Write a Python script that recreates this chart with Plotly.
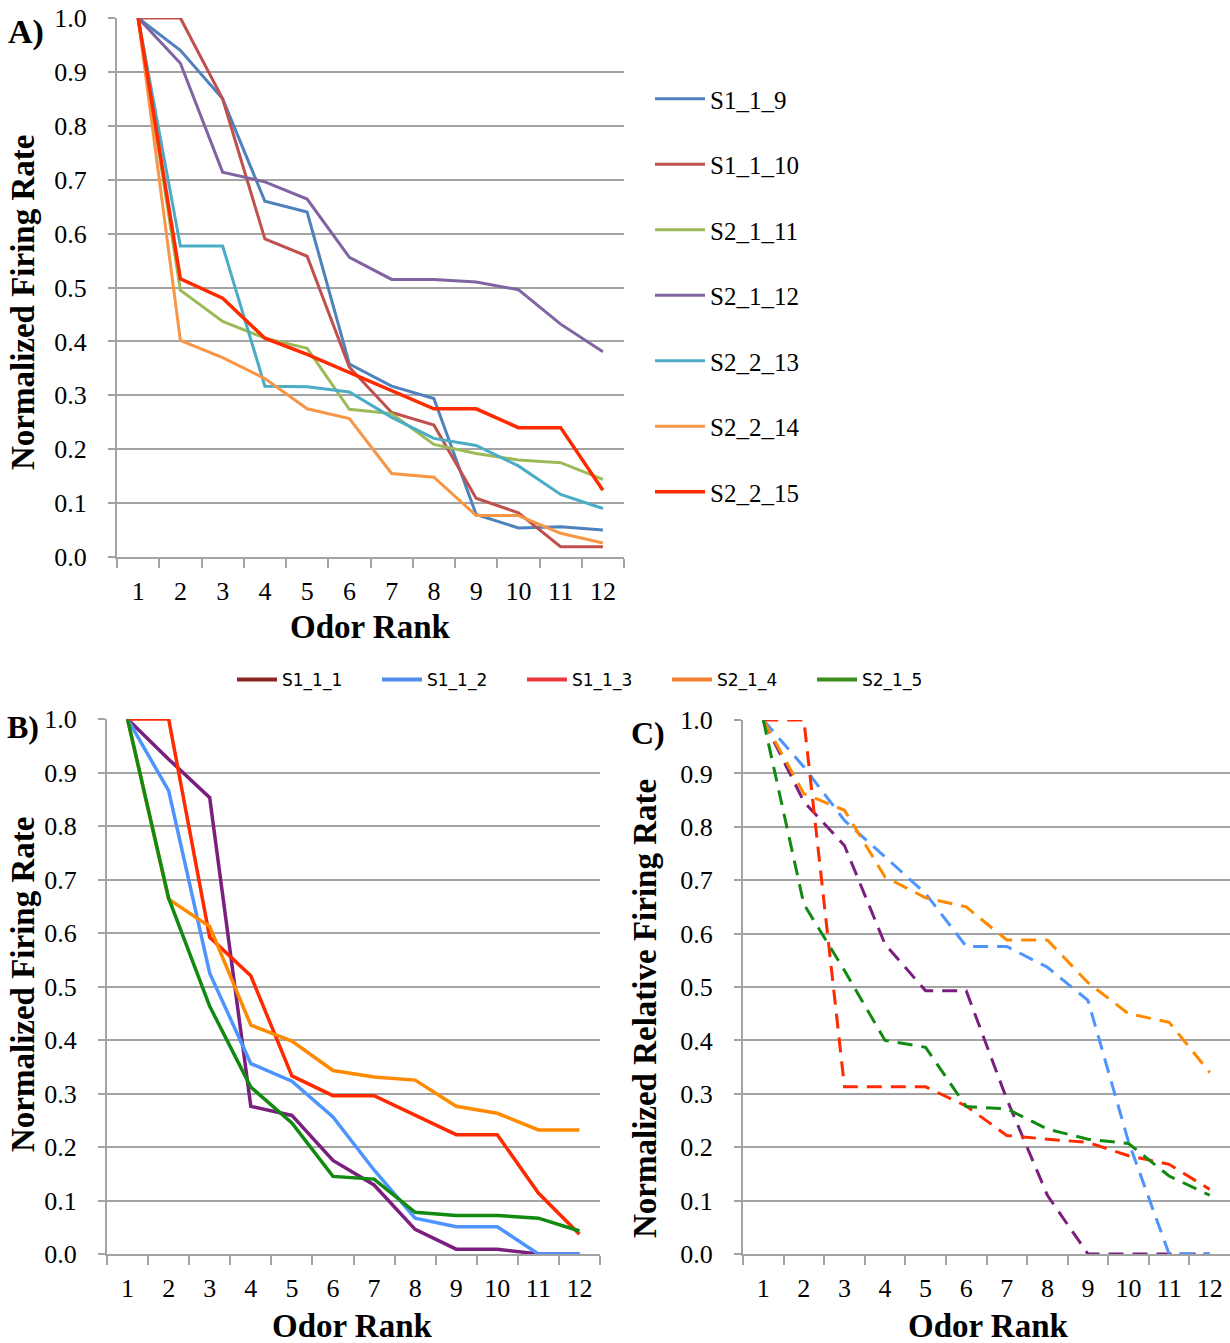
import plotly.graph_objects as go

W, H = 1230, 1343
ranks = [str(i) for i in range(1, 13)]

# Panel A data
a_names = ["S1_1_9", "S1_1_10", "S2_1_11", "S2_1_12", "S2_2_13", "S2_2_14", "S2_2_15"]
s1_1_9 = [1.0, 0.94, 0.85, 0.66, 0.64, 0.358, 0.317, 0.294, 0.079, 0.054, 0.056, 0.05]
s1_1_10 = [1.0, 1.0, 0.85, 0.59, 0.558, 0.352, 0.268, 0.245, 0.109, 0.082, 0.019, 0.019]
s2_1_11 = [1.0, 0.495, 0.437, 0.406, 0.387, 0.274, 0.266, 0.209, 0.192, 0.18, 0.175, 0.144]
s2_1_12 = [1.0, 0.916, 0.714, 0.696, 0.664, 0.556, 0.515, 0.515, 0.51, 0.496, 0.432, 0.381]
s2_2_13 = [1.0, 0.577, 0.577, 0.317, 0.316, 0.306, 0.259, 0.22, 0.207, 0.169, 0.116, 0.09]
s2_2_14 = [1.0, 0.402, 0.37, 0.331, 0.275, 0.257, 0.155, 0.148, 0.077, 0.077, 0.044, 0.026]
s2_2_15 = [1.0, 0.516, 0.48, 0.406, 0.376, 0.342, 0.308, 0.275, 0.275, 0.24, 0.24, 0.124]
a_values = [s1_1_9, s1_1_10, s2_1_11, s2_1_12, s2_2_13, s2_2_14, s2_2_15]
a_colors = ["#4F81BD", "#C0504D", "#9BBB59", "#8064A2", "#4BACC6", "#F79646", "#FF2A00"]

# Panel B data
b_names = ["S1_1_1", "S1_1_2", "S1_1_3", "S2_1_4", "S2_1_5"]
s1_1_1 = [1.0, 0.925, 0.853, 0.276, 0.259, 0.175, 0.129, 0.046, 0.009, 0.009, 0.0, 0.0]
s1_1_2 = [1.0, 0.866, 0.525, 0.356, 0.323, 0.256, 0.157, 0.067, 0.051, 0.051, 0.0, 0.0]
s1_1_3 = [1.0, 1.0, 0.592, 0.52, 0.333, 0.296, 0.296, 0.26, 0.223, 0.223, 0.114, 0.037]
s2_1_4 = [1.0, 0.663, 0.612, 0.428, 0.398, 0.343, 0.331, 0.325, 0.276, 0.263, 0.232, 0.232]
s2_1_5 = [1.0, 0.665, 0.463, 0.312, 0.245, 0.145, 0.14, 0.078, 0.072, 0.072, 0.067, 0.043]
b_values = [s1_1_1, s1_1_2, s1_1_3, s2_1_4, s2_1_5]
line_colors = ["#7B1F7F", "#4D94FF", "#FF2A00", "#FF8A00", "#118A11"]
legend_colors = ["#8E2424", "#4F8FEA", "#E8383D", "#F48032", "#3C8C1E"]

# Panel C data
c_1 = [1.0, 0.847, 0.765, 0.58, 0.493, 0.493, 0.29, 0.11, 0.0, 0.0, 0.0, 0.0]
c_2 = [1.0, 0.912, 0.812, 0.743, 0.675, 0.576, 0.576, 0.537, 0.475, 0.21, 0.0, 0.0]
c_3 = [1.0, 1.0, 0.313, 0.313, 0.313, 0.277, 0.222, 0.215, 0.209, 0.184, 0.168, 0.121]
c_4 = [1.0, 0.862, 0.831, 0.706, 0.667, 0.65, 0.588, 0.588, 0.508, 0.45, 0.434, 0.34]
c_5 = [1.0, 0.655, 0.531, 0.40, 0.387, 0.276, 0.272, 0.234, 0.215, 0.207, 0.146, 0.11]
c_values = [c_1, c_2, c_3, c_4, c_5]

fig = go.Figure()

for name, vals, col in zip(a_names, a_values, a_colors):
    fig.add_trace(go.Scatter(x=ranks, y=vals, mode="lines", name=name,
                             line=dict(color=col, width=3.5 if col == "#FF2A00" else 3),
                             xaxis="x", yaxis="y", legend="legend", legendgroup=name))

for name, vals, col in zip(b_names, b_values, line_colors):
    fig.add_trace(go.Scatter(x=ranks, y=vals, mode="lines", name=name,
                             line=dict(color=col, width=3.5),
                             xaxis="x2", yaxis="y2", showlegend=False))
for name, col in zip(b_names, legend_colors):
    fig.add_trace(go.Scatter(x=[None], y=[None], mode="lines", name=name,
                             line=dict(color=col, width=4),
                             xaxis="x2", yaxis="y2", legend="legend2"))

for name, vals, col in zip(b_names, c_values, line_colors):
    fig.add_trace(go.Scatter(x=ranks, y=vals, mode="lines", name=name,
                             line=dict(color=col, width=3, dash="15px,9px"),
                             xaxis="x3", yaxis="y3", showlegend=False))

SERIF = "Liberation Serif"
grid = "#A3A3A3"

def px_x(p):
    return p / W

def px_y(p):
    return 1 - p / H

def xaxis(dom, anchor):
    return dict(domain=dom, anchor=anchor, type="category", categoryorder="array",
                categoryarray=ranks, range=[-0.5, 11.5], tickson="boundaries",
                ticks="outside", ticklen=9, automargin=False,
                tickwidth=2, tickcolor=grid, showline=True, linecolor=grid, linewidth=2,
                showgrid=False, zeroline=False, ticklabelstandoff=10,
                tickfont=dict(family=SERIF, size=26, color="black"), fixedrange=True)

def yaxis(dom, anchor):
    return dict(domain=dom, anchor=anchor, range=[0, 1], dtick=0.1, tick0=0,
                tickformat=".1f", ticks="outside", ticklen=7, tickwidth=2, tickcolor=grid,
                showline=True, linecolor=grid, linewidth=2, showgrid=True, gridcolor=grid,
                gridwidth=2, zeroline=False, ticklabelstandoff=16, automargin=False,
                tickfont=dict(family=SERIF, size=26, color="black"), fixedrange=True)

fig.update_layout(
    width=W, height=H, margin=dict(l=0, r=0, t=0, b=0, autoexpand=False),
    paper_bgcolor="white", plot_bgcolor="white",
    xaxis=xaxis([px_x(117), px_x(624)], "y"),
    yaxis=yaxis([px_y(557), px_y(18)], "x"),
    xaxis2=xaxis([px_x(107), px_x(600)], "y2"),
    yaxis2=yaxis([px_y(1254), px_y(719)], "x2"),
    xaxis3=xaxis([px_x(743), px_x(1230)], "y3"),
    yaxis3=yaxis([px_y(1254), px_y(720)], "x3"),
    legend=dict(x=px_x(650), y=px_y(76), xanchor="left", yanchor="top",
                font=dict(family=SERIF, size=25, color="black"), tracegroupgap=30,
                bgcolor="rgba(0,0,0,0)", itemwidth=50),
    legend2=dict(x=px_x(232), y=px_y(680), xanchor="left", yanchor="middle",
                 orientation="h", font=dict(family="DejaVu Sans", size=17, color="black"),
                 entrywidth=90, entrywidthmode="pixels", bgcolor="rgba(0,0,0,0)", itemwidth=40),
    showlegend=True,
)

ann = []
def text(x, y, s, size, angle=0):
    ann.append(dict(x=px_x(x), y=px_y(y), xref="paper", yref="paper", text="<b>%s</b>" % s,
                    showarrow=False, textangle=angle, xanchor="center", yanchor="middle",
                    font=dict(family=SERIF, size=size, color="black")))

text(26, 32, "A)", 34)
text(23, 727, "B)", 32)
text(648, 733, "C)", 32)
text(370, 627, "Odor Rank", 33)
text(352, 1326, "Odor Rank", 33)
text(988, 1326, "Odor Rank", 33)
text(23, 303, "Normalized Firing Rate", 33, -90)
text(23, 985, "Normalized Firing Rate", 33, -90)
text(645, 1009, "Normalized Relative Firing Rate", 33, -90)
fig.update_layout(annotations=ann)

fig.write_html("out.html")
